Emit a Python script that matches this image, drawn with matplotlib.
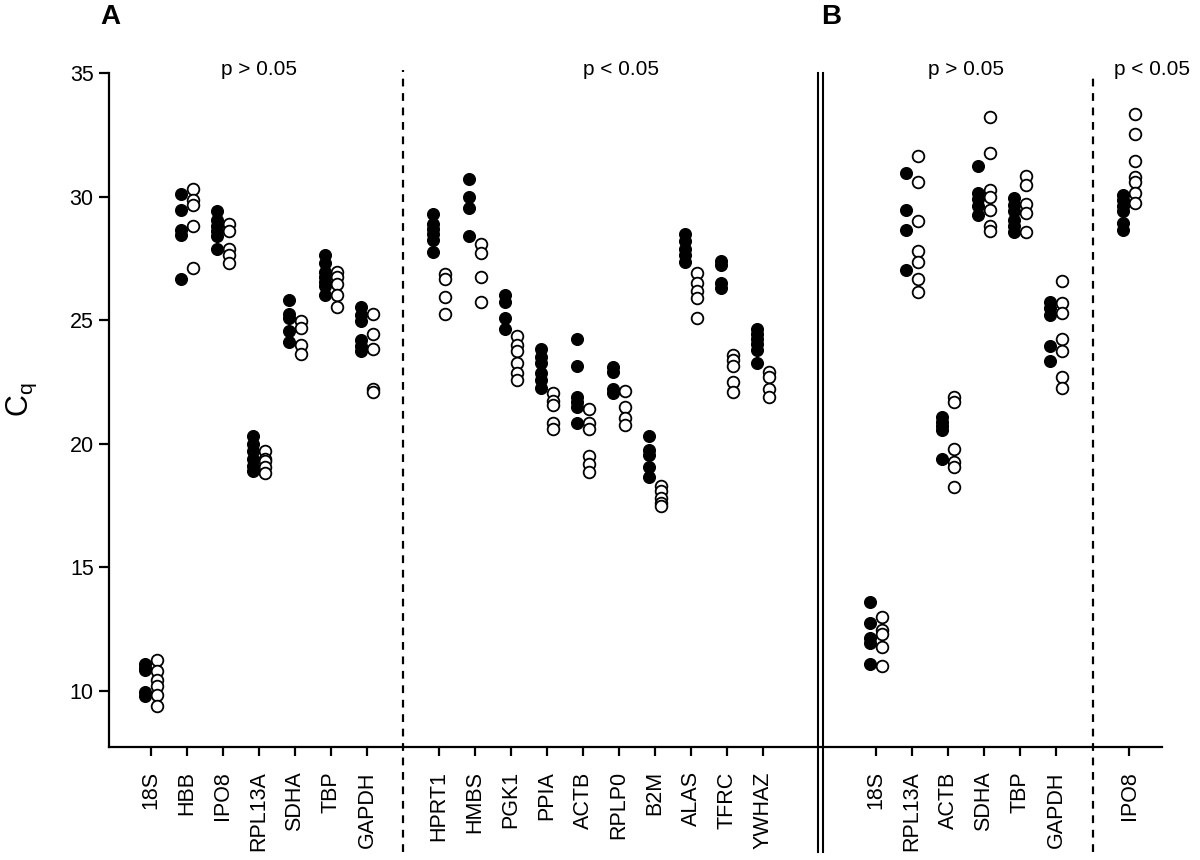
import matplotlib
matplotlib.use("Agg")
import matplotlib.pyplot as plt

plt.rcParams['font.family'] = ['Liberation Sans', 'DejaVu Sans']

# ---------------- data ----------------
genes_A_ns = ["18S", "HBB", "IPO8", "RPL13A", "SDHA", "TBP", "GAPDH"]
genes_A_sig = ["HPRT1", "HMBS", "PGK1", "PPIA", "ACTB", "RPLP0", "B2M", "ALAS", "TFRC", "YWHAZ"]
genes_B_ns = ["18S", "RPL13A", "ACTB", "SDHA", "TBP", "GAPDH"]
genes_B_sig = ["IPO8"]

filled_A_ns = [
    [11.1, 10.95, 10.85, 9.95, 9.8],
    [30.1, 29.45, 28.65, 28.45, 26.65],
    [29.4, 29.05, 28.8, 28.6, 28.4, 27.9],
    [20.3, 20.0, 19.7, 19.4, 19.1, 18.9],
    [25.8, 25.25, 25.1, 24.55, 24.1],
    [27.65, 27.3, 26.95, 26.75, 26.55, 26.4, 26.0],
    [25.55, 25.2, 24.95, 24.2, 23.95, 23.75],
]
open_A_ns = [
    [11.25, 10.8, 10.45, 10.2, 9.85, 9.4],
    [30.3, 29.85, 29.65, 28.8, 27.1],
    [28.9, 28.6, 27.9, 27.65, 27.3],
    [19.7, 19.4, 19.3, 19.05, 18.8],
    [24.95, 24.7, 24.0, 23.65],
    [26.95, 26.75, 26.45, 26.0, 25.55],
    [25.25, 24.45, 23.85, 22.2, 22.1],
]
filled_A_sig = [
    [29.3, 28.9, 28.7, 28.5, 28.25, 27.75],
    [30.7, 30.0, 29.55, 28.4],
    [26.0, 25.75, 25.1, 24.65],
    [23.85, 23.5, 23.25, 22.85, 22.6, 22.25],
    [24.25, 23.15, 21.9, 21.7, 21.5, 20.85],
    [23.1, 22.9, 22.2, 22.05],
    [20.3, 19.75, 19.55, 19.05, 18.65],
    [28.5, 28.2, 27.9, 27.65, 27.35],
    [27.4, 27.25, 26.5, 26.3],
    [24.65, 24.45, 24.25, 24.05, 23.8, 23.25],
]
open_A_sig = [
    [26.85, 26.65, 25.95, 25.25],
    [28.1, 27.7, 26.75, 25.75],
    [24.35, 24.0, 23.75, 23.25, 22.85, 22.6],
    [22.05, 21.75, 21.55, 20.85, 20.6],
    [21.4, 20.85, 20.6, 19.5, 19.2, 18.85],
    [22.15, 21.5, 21.05, 20.75],
    [18.3, 18.1, 17.8, 17.6, 17.5],
    [26.9, 26.5, 26.2, 25.9, 25.1],
    [23.6, 23.4, 23.15, 22.5, 22.1],
    [22.9, 22.7, 22.2, 21.9],
]
filled_B_ns = [
    [13.6, 12.75, 12.15, 11.95, 11.1],
    [30.95, 29.45, 28.65, 27.05],
    [21.1, 20.9, 20.7, 20.55, 19.4],
    [31.25, 30.15, 29.9, 29.6, 29.25],
    [29.95, 29.65, 29.4, 29.05, 28.8, 28.55],
    [25.75, 25.5, 25.2, 23.95, 23.35],
]
open_B_ns = [
    [13.0, 12.45, 12.3, 11.8, 11.0],
    [31.65, 30.6, 29.0, 27.8, 27.35, 26.65, 26.15],
    [21.9, 21.7, 19.8, 19.25, 19.05, 18.25],
    [33.2, 31.75, 30.25, 30.0, 29.45, 28.8, 28.6],
    [30.85, 30.45, 29.7, 29.35, 28.55],
    [26.6, 25.7, 25.3, 24.25, 23.75, 22.7, 22.25],
]
filled_B_sig = [
    [30.05, 29.85, 29.6, 29.4, 28.95, 28.65],
]
open_B_sig = [
    [33.35, 32.55, 31.45, 30.8, 30.6, 30.15, 29.75],
]

y_ticks = [10, 15, 20, 25, 30, 35]

# ---------------- layout ----------------
W, H = 1200, 860
fig = plt.figure(figsize=(W / 100, H / 100), dpi=100)
ax_left, ax_right, ax_top, ax_bot = 109, 1162, 73, 747
ax = fig.add_axes([ax_left / W, 1 - ax_bot / H, (ax_right - ax_left) / W, (ax_bot - ax_top) / H])

px_per_unit = 36.0
x0_px = 151.0
ylo = 35 - (ax_bot - ax_top) / ((691 - 73) / 25.0)
ax.set_ylim(ylo, 35)
ax.set_xlim((ax_left - x0_px) / px_per_unit, (ax_right - x0_px) / px_per_unit)

pos_A_ns = list(range(len(genes_A_ns)))
dash_A = len(genes_A_ns)
pos_A_sig = [dash_A + 1 + i for i in range(len(genes_A_sig))]
double_x = (820.5 - x0_px) / px_per_unit
b_start = (876 - x0_px) / px_per_unit
pos_B_ns = [b_start + i for i in range(len(genes_B_ns))]
dash_B = pos_B_ns[-1] + 1.02
pos_B_sig = [dash_B + 1.02 + i for i in range(len(genes_B_sig))]

off = 6.0 / px_per_unit
ms = 8.4


def draw(positions, filled, opened):
    for p, f, o in zip(positions, filled, opened):
        ax.plot([p - off] * len(f), f, 'o', ms=ms, mfc='black', mec='black', mew=1.0,
                ls='none', clip_on=False, zorder=3)
        ax.plot([p + off] * len(o), o, 'o', ms=ms, mfc='white', mec='black', mew=1.3,
                ls='none', clip_on=False, zorder=4)


draw(pos_A_ns, filled_A_ns, open_A_ns)
draw(pos_A_sig, filled_A_sig, open_A_sig)
draw(pos_B_ns, filled_B_ns, open_B_ns)
draw(pos_B_sig, filled_B_sig, open_B_sig)

# axes styling
for s in ['top', 'right']:
    ax.spines[s].set_visible(False)
ax.spines['left'].set_linewidth(1.6)
ax.spines['bottom'].set_linewidth(1.6)
ax.spines['left'].set_bounds(ylo, 35)

all_pos = pos_A_ns + pos_A_sig + pos_B_ns + pos_B_sig
all_labels = genes_A_ns + genes_A_sig + genes_B_ns + genes_B_sig
ax.set_xticks(all_pos)
ax.set_xticklabels(all_labels, rotation=90, fontsize=15.5)
ax.set_yticks(y_ticks)
ax.set_yticklabels([str(v) for v in y_ticks], fontsize=15.5)
ax.tick_params(axis='x', direction='out', length=6.5, width=1.6, pad=11)
ax.tick_params(axis='y', direction='out', length=7, width=1.6, pad=4)

# separators
tr = ax.get_xaxis_transform()
y_bottom_frac = (ax_bot - 852) / (ax_bot - ax_top)
for xd, ytop_px in [(dash_A, 70), (dash_B, 73)]:
    ax.plot([xd, xd], [y_bottom_frac, (ax_bot - ytop_px) / (ax_bot - ax_top)], transform=tr,
            color='black', lw=1.6, ls=(0, (3.5, 3.0)), clip_on=False)
for dx in (-2.5, 2.5):
    xd = double_x + dx / px_per_unit
    ax.plot([xd, xd], [y_bottom_frac, 1.0], transform=tr, color='black', lw=1.5, clip_on=False)

# p-value annotations
ptxt_y = (ax_bot - 70) / (ax_bot - ax_top)
ax.text((pos_A_ns[0] + pos_A_ns[-1]) / 2, ptxt_y, "p > 0.05", transform=tr, ha='center', va='center', fontsize=15)
ax.text((621 - x0_px) / px_per_unit, ptxt_y, "p < 0.05", transform=tr, ha='center', va='center', fontsize=15)
ax.text((pos_B_ns[0] + pos_B_ns[-1]) / 2, ptxt_y, "p > 0.05", transform=tr, ha='center', va='center', fontsize=15)
ax.text((1152 - x0_px) / px_per_unit, ptxt_y, "p < 0.05", transform=tr, ha='center', va='center', fontsize=15)

# panel labels
fig.text(110 / W, 1 - 17 / H, "A", fontsize=20, fontweight='bold', ha='center', va='center')
fig.text(831 / W, 1 - 17 / H, "B", fontsize=20, fontweight='bold', ha='center', va='center')

# y label
fig.text(22 / W, 1 - 400 / H, r"C$_\mathregular{q}$", fontsize=22, rotation=90, ha='center', va='center')

fig.savefig("out.png", dpi=100)
